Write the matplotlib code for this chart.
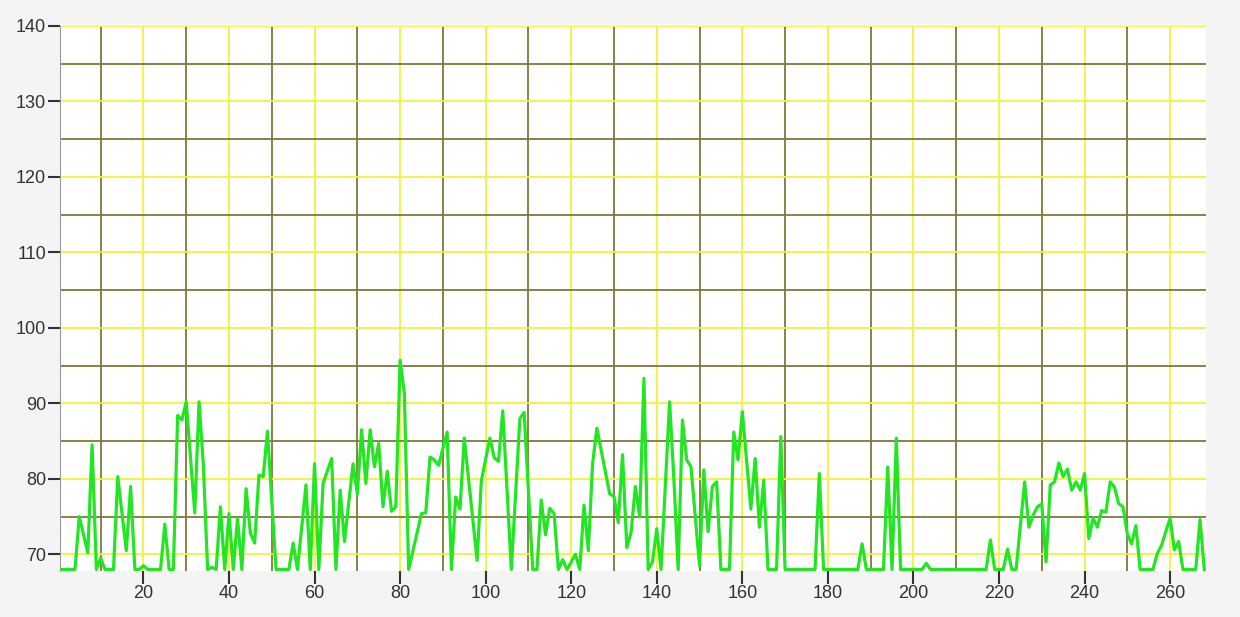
import matplotlib
matplotlib.use("Agg")
import matplotlib.pyplot as plt

plt.rcParams["font.family"] = ["Liberation Sans", "DejaVu Sans"]

# vertices of the green trace
xs = [1, 4, 5, 7, 8, 9, 10, 11, 13, 14, 16, 17, 18, 19, 20, 21, 24, 25, 26, 27,
      28, 29, 30, 32, 33, 34, 35, 36, 37, 38, 39, 40, 41, 42, 43, 44, 45, 46, 47, 48,
      49, 51, 54, 55, 56, 58, 59, 60, 61, 62, 64, 65, 66, 67, 69, 70, 71, 72, 73, 74,
      75, 76, 77, 78, 79, 80, 81, 82, 85, 86, 87, 88, 89, 91, 92, 93, 94, 95, 98, 99,
      101, 102, 103, 104, 106, 108, 109, 111, 112, 113, 114, 115, 116, 117, 118, 119, 121, 122, 123, 124,
      125, 126, 129, 130, 131, 132, 133, 134, 135, 136, 137, 138, 139, 140, 141, 143, 144, 145, 146, 147,
      148, 150, 151, 152, 153, 154, 155, 157, 158, 159, 160, 162, 163, 164, 165, 166, 168, 169, 170, 177,
      178, 179, 187, 188, 189, 193, 194, 195, 196, 197, 202, 203, 204, 217, 218, 219, 221, 222, 223, 224,
      226, 227, 228, 229, 230, 231, 232, 233, 234, 235, 236, 237, 238, 239, 240, 241, 242, 243, 244, 245,
      246, 247, 248, 249, 250, 251, 252, 253, 256, 257, 258, 260, 261, 262, 263, 266, 267, 268]
ys = [68, 68, 75, 70.2, 84.5, 68, 69.5, 68, 68, 80.3, 70.5, 79, 68, 68, 68.5, 68, 68, 74, 68, 68,
      88.4, 87.8, 90.2, 75.5, 90.2, 82, 68, 68.3, 68, 76.3, 68, 75.4, 68, 74.8, 68, 78.7, 72.8, 71.5, 80.5, 80.3,
      86.3, 68, 68, 71.5, 68, 79.2, 68, 82, 68, 79.4, 82.7, 68, 78.5, 71.7, 82, 78, 86.5, 79.4, 86.5, 81.6,
      84.7, 76.3, 81, 75.7, 76.3, 95.7, 91.3, 68, 75.4, 75.5, 82.9, 82.5, 81.8, 86.2, 68, 77.6, 76, 85.4, 69.2, 79.8,
      85.4, 82.8, 82.3, 89, 68, 88, 88.8, 68, 68, 77.2, 72.6, 76.1, 75.4, 68, 69.3, 68, 70, 68, 76.5, 70.5,
      82, 86.7, 78, 77.7, 74.2, 83.2, 70.9, 72.9, 79, 75, 93.3, 68, 69, 73.4, 68, 90.2, 80, 68, 87.8, 82.5,
      81.6, 68.5, 81.2, 73, 79, 79.6, 68, 68, 86.2, 82.5, 88.9, 76, 82.7, 73.6, 79.8, 68, 68, 85.6, 68, 68,
      80.7, 68, 68, 71.4, 68, 68, 81.6, 68, 85.4, 68, 68, 68.8, 68, 68, 71.9, 68, 68, 70.7, 68, 68,
      79.6, 73.6, 75.2, 76.3, 76.7, 69, 79.2, 79.6, 82.1, 80.3, 81.3, 78.5, 79.6, 78.5, 80.7, 72.1, 74.8, 73.6, 75.8, 75.6,
      79.6, 78.9, 76.7, 76.3, 72.7, 71.4, 73.8, 68, 68, 70.1, 71.2, 74.8, 70.6, 71.7, 68, 68, 74.6, 68]

x_ticks = list(range(20, 261, 20))
y_ticks = list(range(70, 141, 10))
x_minor = list(range(10, 261, 20))
y_minor = list(range(75, 136, 10))

fig = plt.figure(figsize=(12.4, 6.17), dpi=100, facecolor="#f4f4f4")
ax = fig.add_axes([0.0484, 0.0746, 0.9242, 0.8834])
ax.set_facecolor("white")

ax.plot(xs, ys, color="#22e622", lw=2.3, zorder=3)

ax.set_xlim(0.5, 268.4)
ax.set_ylim(67.8, 140)
ax.set_xticks(x_ticks)
ax.set_yticks(y_ticks)
ax.set_xticks(x_minor, minor=True)
ax.set_yticks(y_minor, minor=True)

ax.grid(which="major", color="#f2f23a", lw=1.3, zorder=1)
ax.grid(which="minor", color="#7d7838", lw=1.3, zorder=1)
ax.set_axisbelow(True)

ax.tick_params(which="major", direction="out", length=9, width=1.5,
               color="#333333", labelsize=13, labelcolor="#333333", pad=1)
ax.tick_params(which="minor", length=0)

for side in ["top", "right", "bottom"]:
    ax.spines[side].set_visible(False)
ax.spines["left"].set_color("#999999")
ax.spines["left"].set_linewidth(0.8)

fig.savefig("out.png", dpi=100, facecolor=fig.get_facecolor())
